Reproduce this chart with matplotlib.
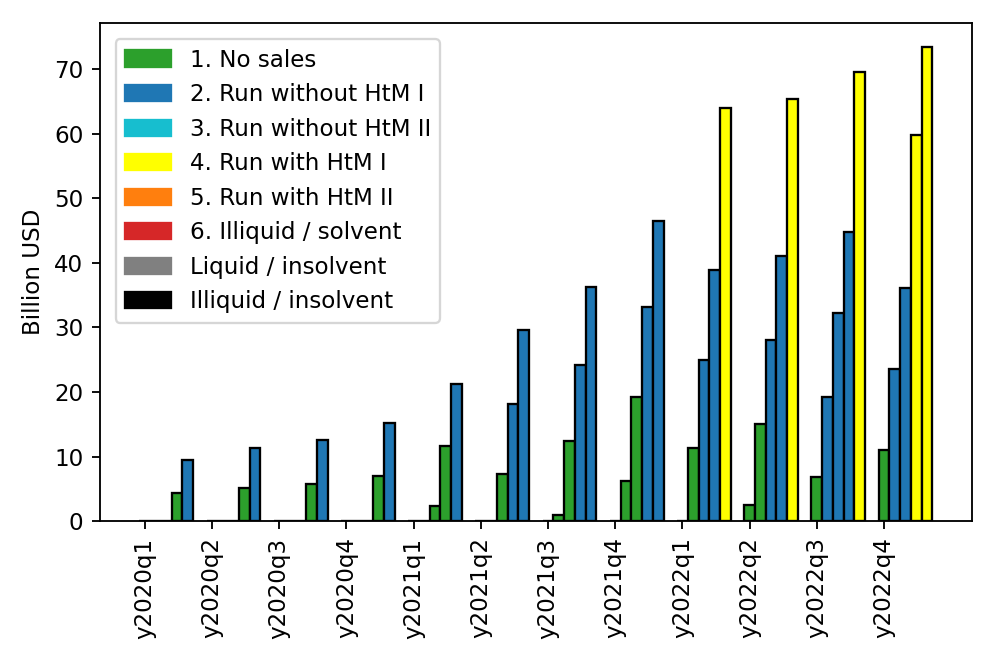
import numpy as np
import matplotlib
matplotlib.use('Agg')
import matplotlib.pyplot as plt
from matplotlib.patches import Patch

quarters = ['y2020q1', 'y2020q2', 'y2020q3', 'y2020q4',
            'y2021q1', 'y2021q2', 'y2021q3', 'y2021q4',
            'y2022q1', 'y2022q2', 'y2022q3', 'y2022q4']

# bar heights per scenario position (billion USD)
s1 = [0, 0, 0, 0, 0, 0, 0, 0, 0, 2.5, 6.9, 11.1]
s2 = [0, 0, 0, 0, 0, 0, 0.9, 6.3, 11.3, 15.0, 19.2, 23.6]
s3 = [0, 0, 0, 0, 2.4, 7.3, 12.4, 19.3, 24.9, 28.1, 32.3, 36.1]
s4 = [4.3, 5.2, 5.8, 7.0, 11.6, 18.1, 24.2, 33.1, 38.9, 41.1, 44.7, 59.8]
s5 = [9.5, 11.4, 12.6, 15.2, 21.2, 29.6, 36.2, 46.4, 63.9, 65.4, 69.5, 73.4]

# outcome category of each bar
o1 = [1, 1, 1, 1, 1, 1, 1, 1, 1, 1, 1, 1]
o2 = [1, 1, 1, 1, 1, 1, 1, 1, 1, 1, 2, 2]
o3 = [1, 1, 1, 1, 1, 1, 1, 1, 2, 2, 2, 2]
o4 = [1, 1, 1, 1, 1, 2, 2, 2, 2, 2, 2, 4]
o5 = [2, 2, 2, 2, 2, 2, 2, 2, 4, 4, 4, 4]

categories = ['1. No sales', '2. Run without HtM I', '3. Run without HtM II',
              '4. Run with HtM I', '5. Run with HtM II', '6. Illiquid / solvent',
              'Liquid / insolvent', 'Illiquid / insolvent']
cat_colors = ['tab:green', 'tab:blue', 'tab:cyan', 'yellow',
              'tab:orange', 'tab:red', 'grey', 'black']

dpi = 166
fig = plt.figure(figsize=(997 / dpi, 664 / dpi), dpi=dpi)
ax = fig.add_axes([0.1, 0.215, 0.875, 0.75])

x = np.arange(len(quarters))
width = 0.16

for i, (vals, outs) in enumerate(zip([s1, s2, s3, s4, s5], [o1, o2, o3, o4, o5])):
    ax.bar(x + i * width, vals, width=width,
           color=[cat_colors[o - 1] for o in outs], edgecolor='black')

ax.set_xticks(x)
ax.set_xticklabels(quarters, rotation=90)
ax.set_ylabel('Billion USD')

handles = [Patch(color=c, label=l) for c, l in zip(cat_colors, categories)]
ax.legend(handles=handles, loc='upper left', borderaxespad=0.7)

fig.savefig('out.png', dpi=dpi)
